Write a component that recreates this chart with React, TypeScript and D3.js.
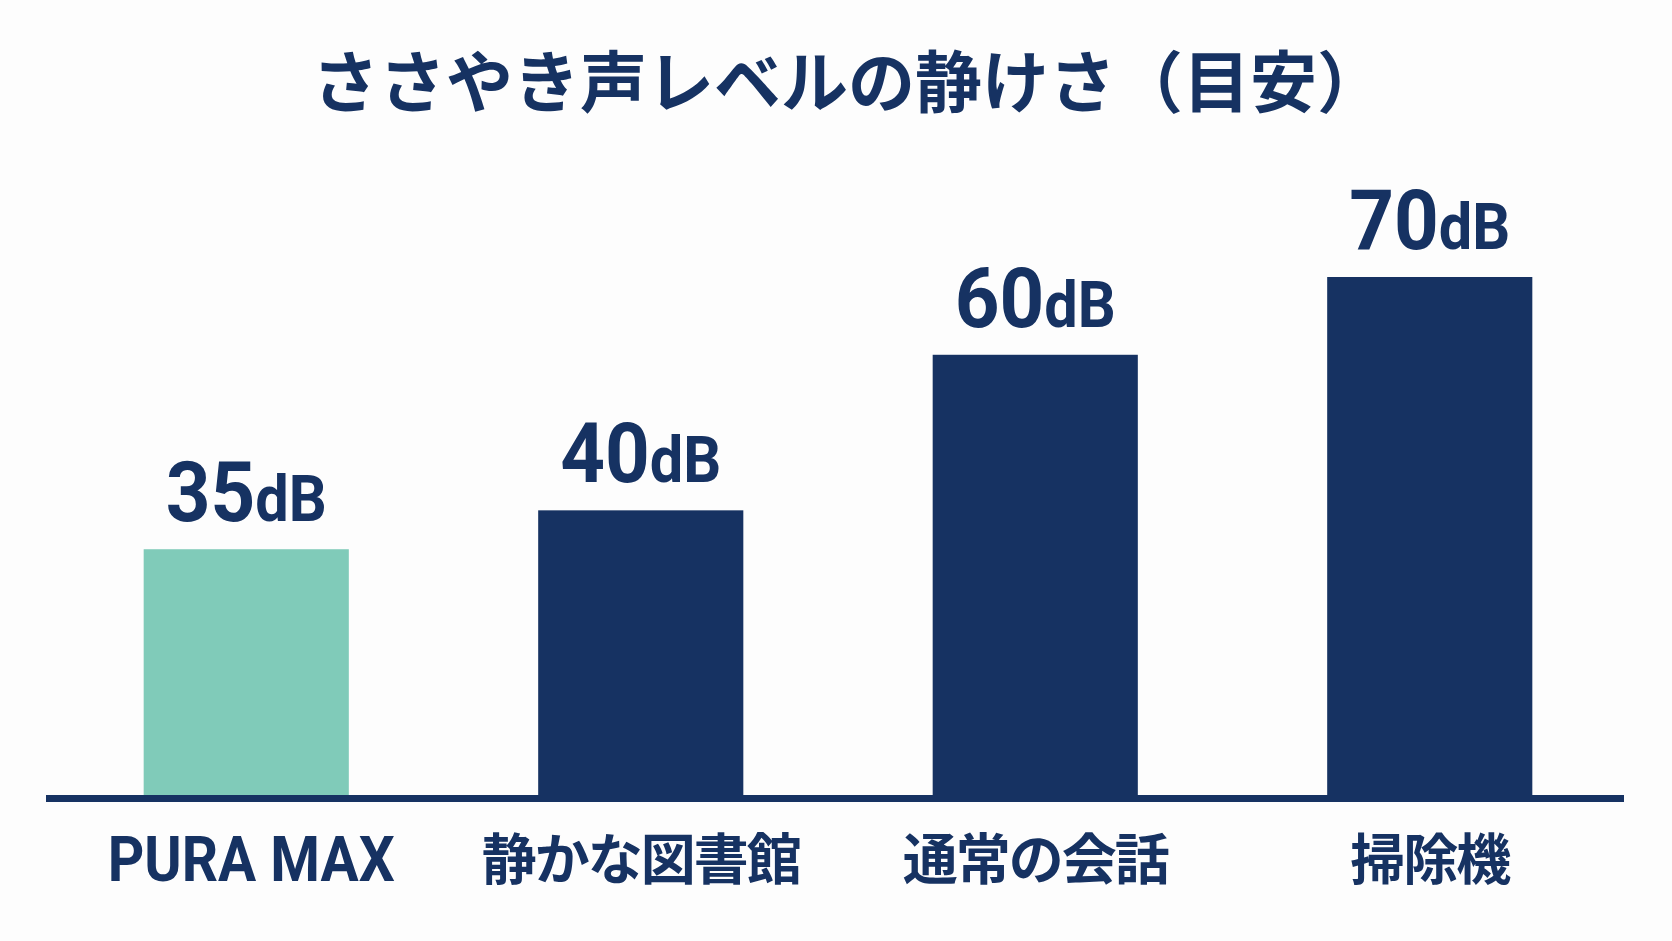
import React from 'react';
import * as d3 from 'd3';

const categories = ['PURA MAX', '静かな図書館', '通常の会話', '掃除機'];
const decibels = [35, 40, 60, 70];
const unitLabel = 'dB';
const highlighted = ['PURA MAX'];
const chartTitle = 'ささやき声レベルの静けさ（目安）';

const WIDTH = 1672;
const HEIGHT = 941;
const NAVY = '#163262';
const TEAL = '#80cbb9';

const App: React.FC = () => {
  // Bars stand on the axis line; the picture's scale does not start exactly at 0
  const baseline = 795;

  const xScale = d3
    .scaleBand<string>()
    .domain(categories)
    .range([49, 1627])
    .paddingInner(0.48)
    .paddingOuter(0.24);

  const yScale = d3.scaleLinear().domain([3.4, 70]).range([baseline, 277]);

  // axis line runs a little past the outer bars
  const axisX = [46, 1624];

  return (
    <svg
      width={WIDTH}
      height={HEIGHT}
      style={{ position: 'absolute', left: 0, top: 0, display: 'block', background: '#fdfdfd' }}
    >
      {/* Title */}
      <text
        x={848}
        y={107}
        textAnchor="middle"
        fontFamily="'Noto Sans CJK JP', sans-serif"
        fontWeight={700}
        fontSize={67}
        fill={NAVY}
      >
        {chartTitle}
      </text>

      {/* Bars */}
      {categories.map((c, i) => {
        const v = decibels[i];
        const bx = xScale(c) ?? 0;
        const top = yScale(v);
        return (
          <rect
            key={c}
            x={bx}
            y={top}
            width={xScale.bandwidth()}
            height={baseline - top}
            fill={highlighted.includes(c) ? TEAL : NAVY}
          />
        );
      })}

      {/* Value labels (slightly condensed like the reference) */}
      {categories.map((c, i) => {
        const v = decibels[i];
        const cx = (xScale(c) ?? 0) + xScale.bandwidth() / 2;
        return (
          <g key={`v-${c}`} transform={`translate(${cx},${yScale(v) - 28}) scale(0.93,1)`}>
            <text
              x={0}
              y={0}
              textAnchor="middle"
              fontFamily="Roboto, 'Liberation Sans', sans-serif"
              fontWeight={700}
              fill={NAVY}
            >
              <tspan fontSize={84}>{v}</tspan>
              <tspan fontSize={64}>{unitLabel}</tspan>
            </text>
          </g>
        );
      })}

      {/* Axis line */}
      <line
        x1={axisX[0]}
        x2={axisX[1]}
        y1={baseline + 3.5}
        y2={baseline + 3.5}
        stroke={NAVY}
        strokeWidth={7}
      />

      {/* Category labels */}
      {categories.map((c) => {
        const cx = (xScale(c) ?? 0) + xScale.bandwidth() / 2;
        const latin = /^[A-Za-z ]+$/.test(c);
        return latin ? (
          <text
            key={`c-${c}`}
            x={cx + 5}
            y={881}
            textAnchor="middle"
            fontFamily="Roboto, 'Liberation Sans', sans-serif"
            fontWeight={700}
            fontSize={63}
            fill={NAVY}
            textLength={287}
            lengthAdjust="spacingAndGlyphs"
          >
            {c}
          </text>
        ) : (
          <text
            key={`c-${c}`}
            x={cx}
            y={879}
            textAnchor="middle"
            fontFamily="'Noto Sans CJK JP', sans-serif"
            fontWeight={700}
            fontSize={55}
            letterSpacing={-2}
            fill={NAVY}
          >
            {c}
          </text>
        );
      })}
    </svg>
  );
};

export default App;
